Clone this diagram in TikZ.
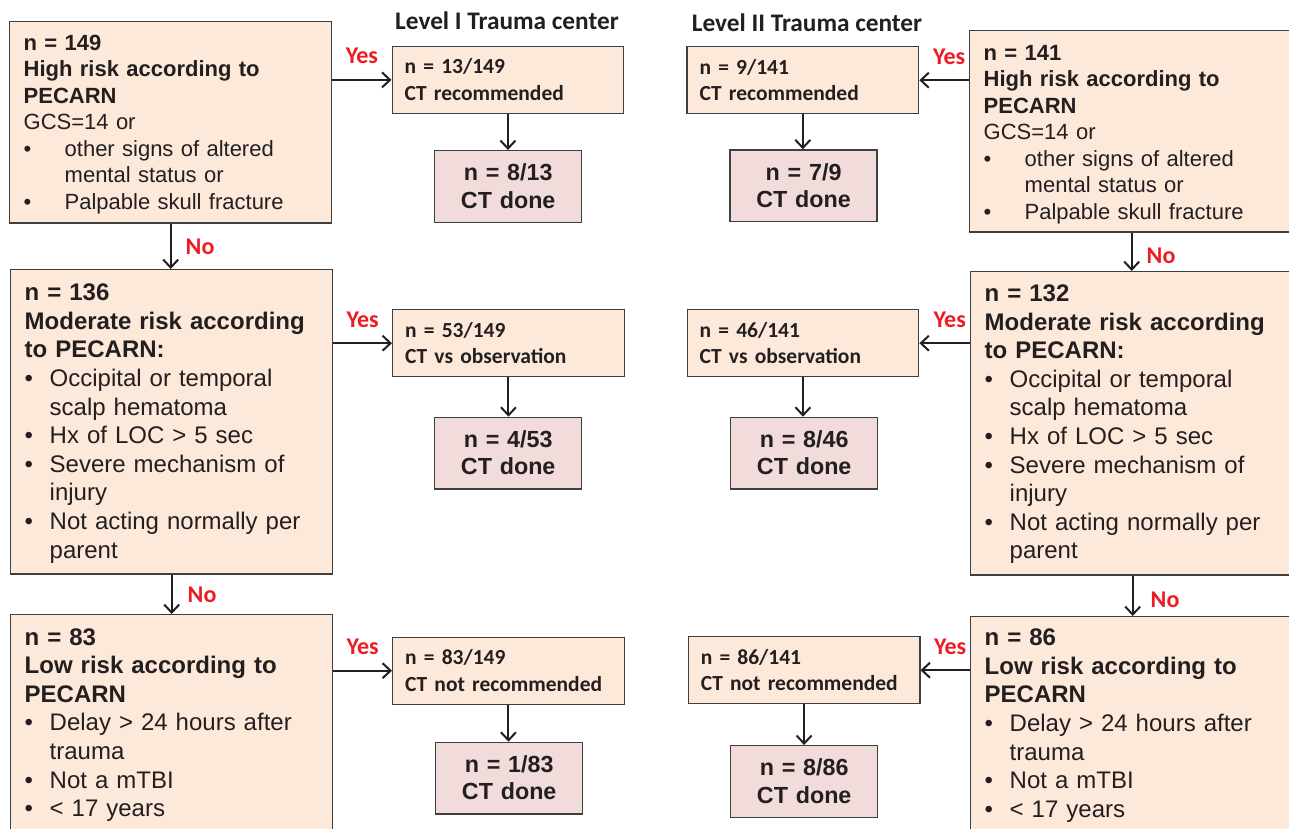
\documentclass[tikz,border=0pt]{standalone}
\usepackage{fontspec}
\setmainfont{Liberation Sans}
\newfontfamily\calibri{Carlito}
\usetikzlibrary{arrows.meta}

\definecolor{peach}{HTML}{FDE9D9}
\definecolor{rosebox}{HTML}{F2DCDB}
\definecolor{boxline}{HTML}{3F3F3F}
\definecolor{ink}{HTML}{231F20}
\definecolor{answer}{HTML}{ED1C24}

% bullet line and its continuation
\newcommand{\bitem}[2]{\makebox[#1][l]{•}#2}
\newcommand{\bcont}[2]{\hspace*{#1}#2}

\tikzset{
  riskbox/.style={draw=boxline, line width=1.4pt, fill=peach, text=ink, anchor=north west,
    inner xsep=14pt, inner ysep=0pt, align=left},
  hirisk/.style={riskbox, font=\fontsize{22}{26.5}\selectfont},
  morisk/.style={riskbox, font=\fontsize{24}{28.6}\selectfont},
  ctbox/.style={draw=boxline, line width=1.4pt, fill=peach, text=ink, anchor=north west,
    inner xsep=12.5pt, inner ysep=0pt, text width=206.5pt, align=left,
    text height=27.5pt, text depth=39.5pt, font=\calibri\bfseries\fontsize{21.5}{26.3}\selectfont},
  donebox/.style={draw=boxline, line width=1.4pt, fill=rosebox, text=ink, anchor=north west,
    inner sep=0pt, text width=147pt, align=center, text height=30pt, text depth=41.5pt,
    font=\bfseries\fontsize{23.3}{27.3}\selectfont},
  levelhead/.style={anchor=base, text=ink, inner sep=0pt, font=\calibri\bfseries\fontsize{25.3}{30}\selectfont},
  flowarrow/.style={draw=ink, line width=2pt, -{Straight Barb[length=8pt,width=15pt]}},
  answerlbl/.style={inner sep=0pt, text=answer, font=\calibri\bfseries\fontsize{24}{28}\selectfont},
}

\begin{document}
\begin{tikzpicture}[x=1pt, y=-1pt]
  \fill[white] (0,0) rectangle (1289,828);
  \useasboundingbox (0,0) rectangle (1289,828);

  % Level I trauma center (left)
  \node[hirisk, text width=294pt, text height=28.3pt, text depth=173pt] (L1) at (9,21)
    {\textbf{n = 149}\\ \textbf{High risk according to}\\ \textbf{PECARN}\\ GCS=14 or\\
     \bitem{41pt}{other signs of altered}\\ \bcont{41pt}{mental status or}\\
     \bitem{41pt}{Palpable skull fracture}};
  \node[morisk, text width=294pt, text height=31pt, text depth=273.3pt] (L2) at (10,269)
    {\textbf{n = 136}\\ \textbf{Moderate risk according}\\ \textbf{to PECARN:}\\
     \bitem{25pt}{Occipital or temporal}\\ \bcont{25pt}{scalp hematoma}\\
     \bitem{25pt}{Hx of LOC > 5 sec}\\ \bitem{25pt}{Severe mechanism of}\\ \bcont{25pt}{injury}\\
     \bitem{25pt}{Not acting normally per}\\ \bcont{25pt}{parent}};
  \node[morisk, text width=294pt, text height=30.3pt, text depth=220pt] (L3) at (10,614)
    {\textbf{n = 83}\\ \textbf{Low risk according to}\\ \textbf{PECARN}\\
     \bitem{25pt}{Delay > 24 hours after}\\ \bcont{25pt}{trauma}\\
     \bitem{25pt}{Not a mTBI}\\ \bitem{25pt}{< 17 years}};

  \node[levelhead] (headI) at (507,29.3) {Level I Trauma center};
  \node[ctbox] (S1) at (391.5,45.7) {n = 13/149\\ CT recommended};
  \node[ctbox] (S2) at (392,309) {n = 53/149\\ CT vs observation};
  \node[ctbox] (S3) at (392,636.5) {n = 83/149\\ CT not recommended};
  \node[donebox] (D1) at (434,150) {n = 8/13\\ CT done};
  \node[donebox] (D2) at (434,416.7) {n = 4/53\\ CT done};
  \node[donebox] (D3) at (435,741.7) {n = 1/83\\ CT done};

  % Level II trauma center (right)
  \node[levelhead] (headII) at (807,31.7) {Level II Trauma center};
  \node[ctbox] (S4) at (686.4,46) {n = 9/141\\ CT recommended};
  \node[ctbox] (S5) at (686.5,309) {n = 46/141\\ CT vs observation};
  \node[ctbox] (S6) at (687.6,636) {n = 86/141\\ CT not recommended};
  \node[donebox] (D4) at (729.4,149.3) {n = 7/9\\ CT done};
  \node[donebox] (D5) at (730,416.7) {n = 8/46\\ CT done};
  \node[donebox] (D6) at (730,745) {n = 8/86\\ CT done};

  \node[hirisk, text width=296pt, text height=29.3pt, text depth=172pt] (R1) at (969,30)
    {\textbf{n = 141}\\ \textbf{High risk according to}\\ \textbf{PECARN}\\ GCS=14 or\\
     \bitem{41pt}{other signs of altered}\\ \bcont{41pt}{mental status or}\\
     \bitem{41pt}{Palpable skull fracture}};
  \node[morisk, text width=296pt, text height=29.7pt, text depth=273.6pt] (R2) at (970,271)
    {\textbf{n = 132}\\ \textbf{Moderate risk according}\\ \textbf{to PECARN:}\\
     \bitem{25pt}{Occipital or temporal}\\ \bcont{25pt}{scalp hematoma}\\
     \bitem{25pt}{Hx of LOC > 5 sec}\\ \bitem{25pt}{Severe mechanism of}\\ \bcont{25pt}{injury}\\
     \bitem{25pt}{Not acting normally per}\\ \bcont{25pt}{parent}};
  \node[morisk, text width=296pt, text height=29pt, text depth=220pt] (R3) at (970,616)
    {\textbf{n = 86}\\ \textbf{Low risk according to}\\ \textbf{PECARN}\\
     \bitem{25pt}{Delay > 24 hours after}\\ \bcont{25pt}{trauma}\\
     \bitem{25pt}{Not a mTBI}\\ \bitem{25pt}{< 17 years}};

  % yes arrows
  \draw[flowarrow] (L1.east |- S1.west) -- node[answerlbl, above=15pt] {Yes} (S1.west);
  \draw[flowarrow] (L2.east |- S2.west) -- node[answerlbl, above=15pt] {Yes} (S2.west);
  \draw[flowarrow] (L3.east |- S3.west) -- node[answerlbl, above=15pt] {Yes} (S3.west);
  \draw[flowarrow] (R1.west |- S4.east) -- node[answerlbl, above=15pt, pos=0.4] {Yes} (S4.east);
  \draw[flowarrow] (R2.west |- S5.east) -- node[answerlbl, above=15pt, pos=0.4] {Yes} (S5.east);
  \draw[flowarrow] (R3.west |- S6.east) -- node[answerlbl, above=15pt, pos=0.4] {Yes} (S6.east);

  % no arrows
  \draw[flowarrow] (L1.south) -- node[answerlbl, right=14pt] {No} (L1.south |- L2.north);
  \draw[flowarrow] (L2.south) -- node[answerlbl, right=15pt] {No} (L2.south |- L3.north);
  \draw[flowarrow] (R1.south) -- node[answerlbl, right=14pt, pos=0.6] {No} (R1.south |- R2.north);
  \draw[flowarrow] (R2.south) -- node[answerlbl, right=17pt, pos=0.6] {No} (R2.south |- R3.north);

  % recommendation to CT done
  \foreach \s/\d in {S1/D1, S2/D2, S3/D3, S4/D4, S5/D5, S6/D6}
    \draw[flowarrow] (\s.south) -- (\s.south |- \d.north);
\end{tikzpicture}
\end{document}
